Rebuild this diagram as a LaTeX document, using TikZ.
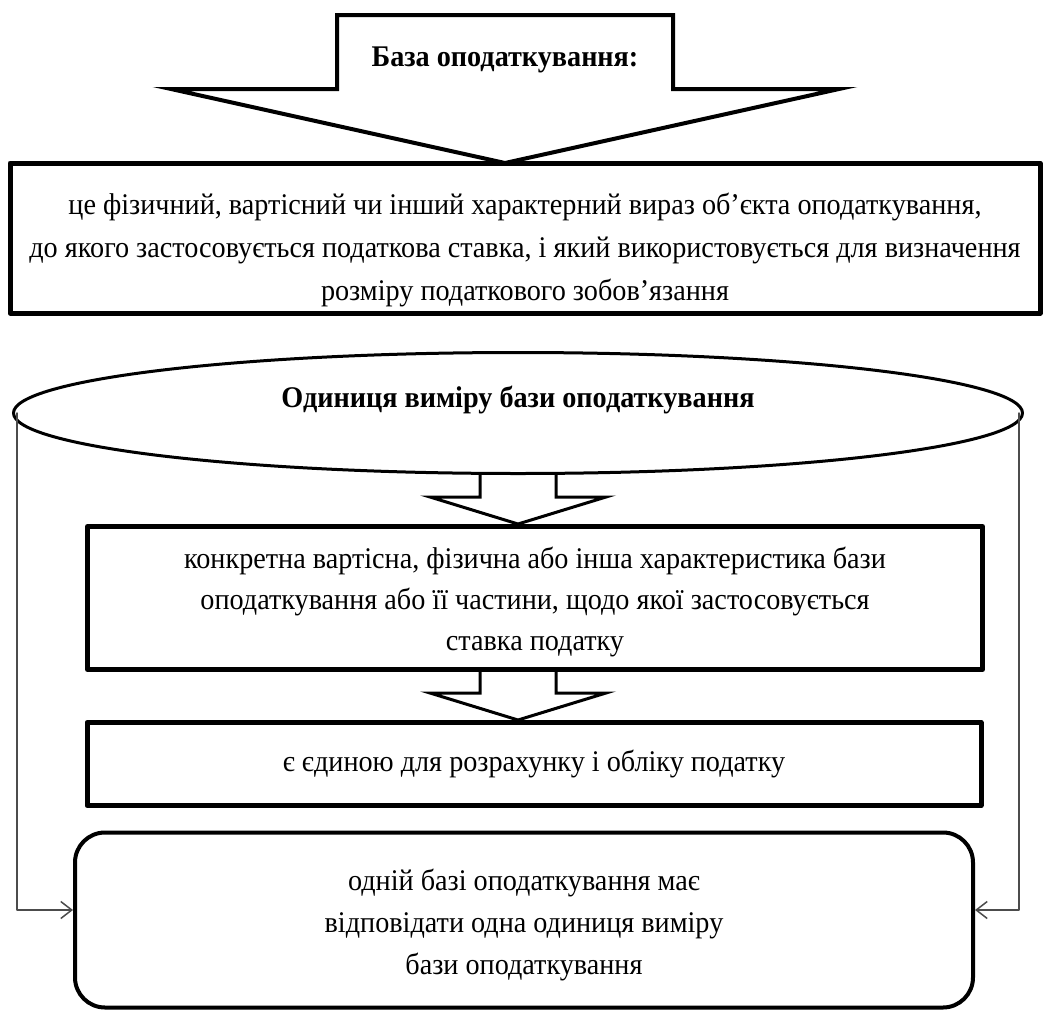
\documentclass[tikz,border=0pt]{standalone}
\usepackage{fontspec}
\setmainfont{Liberation Serif}[FakeStretch=0.94]
\usetikzlibrary{shapes.geometric, arrows.meta}
\tikzset{
	textbox/.style={draw, line width=5pt, inner sep=0pt, align=center},
	roundbox/.style={textbox, line width=4pt, rounded corners=30pt},
	hollow/.style={draw, line width=3pt, line join=miter},
	feed/.style={draw=black!70, line width=1.5pt, -{Straight Barb[length=11pt,width=17pt]}},
}
% invisible strut that pushes the first line down
\newcommand\lift[1]{\rule{0pt}{#1}}

\begin{document}
\fontsize{30}{36}\selectfont
\begin{tikzpicture}[x=1pt,y=-1pt,line join=round,line cap=round]
	\useasboundingbox (0,0) rectangle (1045,1010);
	% big arrow on top
	\draw[line width=4pt, line join=miter] (337,15) -- (673,15) -- (673,89) -- (839,89) -- (505,163) -- (171,89) -- (337,89) -- cycle;
	\node[font=\bfseries] (base) at (505,60) {База оподаткування:};
	\node[textbox, minimum width=1030pt, minimum height=150pt] (defn) at (525,238)
		{\lift{45pt}це фізичний, вартісний чи інший характерний вираз об’єкта оподаткування,\\[7pt]
		до якого застосовується податкова ставка, і який використовується для визначення\\[7pt]
		розміру податкового зобов’язання};
	\node[draw, ellipse, line width=3pt, minimum width=1009pt, minimum height=121pt, inner sep=0pt,
		text height=20pt, text depth=32pt, font=\bfseries] (unit) at (518,413)
		{Одиниця виміру бази оподаткування};
	\node[textbox, minimum width=895pt, minimum height=143pt] (charact) at (535,598)
		{\lift{29pt}конкретна вартісна, фізична або інша характеристика бази\\[5pt]
		оподаткування або її частини, щодо якої застосовується\\[5pt]
		ставка податку};
	\node[textbox, minimum width=894pt, minimum height=83pt] (single) at (534,764)
		{є єдиною для розрахунку і обліку податку};
	\node[roundbox, minimum width=898pt, minimum height=175pt] (match) at (524,920)
		{\lift{31pt}одній базі оподаткування має\\[6pt]
		відповідати одна одиниця виміру\\[6pt]
		бази оподаткування};
	% small arrows
	\foreach \a/\b in {unit/charact, charact/single}
	{
		\coordinate (top) at (unit.south |- \a.south);
		\coordinate (tip) at (unit.south |- \b.north);
		\draw[hollow] ([xshift=-38pt]top) -- ([shift={(-38,-27)}]tip) -- ([shift={(-88,-27)}]tip) -- (tip)
			-- ([shift={(88,-27)}]tip) -- ([shift={(38,-27)}]tip) -- ([xshift=38pt]top);
	}
	\draw[feed] ([xshift=5pt]unit.west) |- ([yshift=10pt]match.west);
	\draw[feed] ([xshift=-5pt]unit.east) |- ([yshift=10pt]match.east);
\end{tikzpicture}
\end{document}
